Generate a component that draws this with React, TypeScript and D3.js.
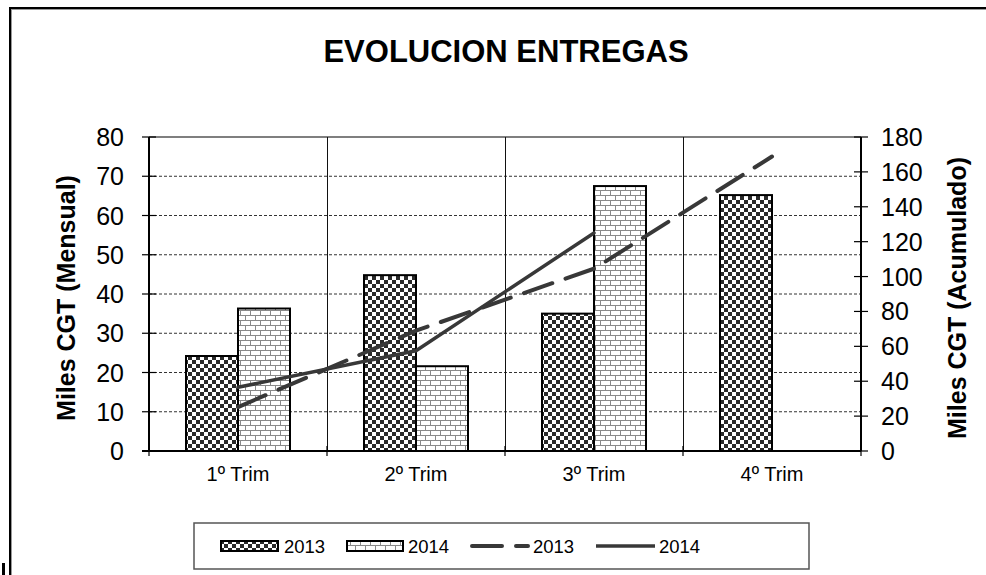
import React from 'react';
import * as d3 from 'd3';

const categories = ['1º Trim', '2º Trim', '3º Trim', '4º Trim'];
const seriesYears = ['2013', '2014'];
const monthly2013 = [24.2, 44.8, 35.0, 65.2];
const monthly2014: (number | null)[] = [36.3, 21.6, 67.5, null];
const cumulative2013 = [25.2, 69.0, 104.5, 168.8];
const cumulative2014 = [36.5, 57.5, 125.0];
const leftTicks = [0, 10, 20, 30, 40, 50, 60, 70, 80];
const rightTicks = [0, 20, 40, 60, 80, 100, 120, 140, 160, 180];
const titleText = 'EVOLUCION ENTREGAS';
const leftAxisTitle = 'Miles CGT (Mensual)';
const rightAxisTitle = 'Miles CGT (Acumulado)';

const W = 986;
const H = 575;
const P = { left: 149, right: 861, top: 137, bottom: 451 };
const FONT = '"Liberation Sans", Arial, sans-serif';
const LINE_COLOR = '#383838';

export default function App() {
  const x0 = d3.scaleBand<string>().domain(categories).range([P.left, P.right]).paddingInner(0).paddingOuter(0);
  const groupW = 104;
  const x1 = d3.scaleBand<string>().domain(seriesYears).range([0, groupW]);
  const offset = (x0.bandwidth() - groupW) / 2;
  const yL = d3.scaleLinear().domain([0, 80]).range([P.bottom, P.top]);
  const yR = d3.scaleLinear().domain([0, 180]).range([P.bottom, P.top]);
  const cx = (c: string) => (x0(c) as number) + x0.bandwidth() / 2;

  const lineGen = d3
    .line<[string, number]>()
    .x((d) => cx(d[0]))
    .y((d) => yR(d[1]));

  const pts2013: [string, number][] = cumulative2013.map((v, i) => [categories[i], v]);
  const pts2014: [string, number][] = cumulative2014.map((v, i) => [categories[i], v]);

  const bars: { key: string; year: string; cat: string; v: number }[] = [];
  categories.forEach((c, i) => {
    bars.push({ key: 'a' + i, year: '2013', cat: c, v: monthly2013[i] });
    const v2 = monthly2014[i];
    if (v2 != null) bars.push({ key: 'b' + i, year: '2014', cat: c, v: v2 });
  });

  const boundaries = [...categories.map((c) => x0(c) as number), P.right];
  const tickFs = 25;

  return (
    <svg width={W} height={H} style={{ position: 'absolute', left: 0, top: 0, display: 'block', background: '#fff' }} fontFamily={FONT}>
      <defs>
        <pattern id="checker" width={8} height={8} patternUnits="userSpaceOnUse">
          <rect width={8} height={8} fill="#fff" />
          <rect x={0} y={0} width={4} height={4} fill="#2a2a2a" />
          <rect x={4} y={4} width={4} height={4} fill="#2a2a2a" />
        </pattern>
        <pattern id="brick" width={10} height={10} patternUnits="userSpaceOnUse">
          <rect width={10} height={10} fill="#fff" />
          <line x1={0} y1={0.5} x2={10} y2={0.5} stroke="#8a8a8a" strokeWidth={1} />
          <line x1={0} y1={5.5} x2={10} y2={5.5} stroke="#8a8a8a" strokeWidth={1} />
          <line x1={0.5} y1={0} x2={0.5} y2={5} stroke="#8a8a8a" strokeWidth={1} />
          <line x1={5.5} y1={5} x2={5.5} y2={10} stroke="#8a8a8a" strokeWidth={1} />
        </pattern>
      </defs>

      {/* outer frame */}
      <rect x={10} y={8} width={1000} height={600} fill="none" stroke="#000" strokeWidth={2} />
      <rect x={11.5} y={9.5} width={1000} height={600} fill="none" stroke="#999" strokeWidth={1} />
      <rect x={2} y={563} width={3} height={12} fill="#000" />

      {/* title */}
      <text x={506} y={62} textAnchor="middle" fontSize={31} fontWeight="bold" fill="#000">
        {titleText}
      </text>

      {/* horizontal gridlines */}
      {leftTicks
        .filter((t) => t > 0 && t < 80)
        .map((t) => (
          <line key={'g' + t} x1={P.left} x2={P.right} y1={yL(t)} y2={yL(t)} stroke="#333" strokeWidth={1} strokeDasharray="3,2" />
        ))}
      {/* plot top border */}
      <line x1={P.left} x2={P.right} y1={P.top} y2={P.top} stroke="#555" strokeWidth={1.5} />
      {/* vertical category gridlines */}
      {boundaries.slice(1, -1).map((b, i) => (
        <line key={'v' + i} x1={Math.round(b) + 0.5} x2={Math.round(b) + 0.5} y1={P.top} y2={P.bottom} stroke="#111" strokeWidth={1} />
      ))}

      {/* bars */}
      {bars.map((b) => (
        <rect
          key={b.key}
          x={(x0(b.cat) as number) + offset + (x1(b.year) as number)}
          y={yL(b.v)}
          width={x1.bandwidth()}
          height={P.bottom - yL(b.v)}
          fill={b.year === '2013' ? 'url(#checker)' : 'url(#brick)'}
          stroke="#000"
          strokeWidth={2}
        />
      ))}

      {/* lines */}
      <path d={lineGen(pts2013) || ''} fill="none" stroke={LINE_COLOR} strokeWidth={4} strokeDasharray="30,14" strokeLinecap="round" />
      <path d={lineGen(pts2014) || ''} fill="none" stroke={LINE_COLOR} strokeWidth={3.5} strokeLinecap="round" strokeLinejoin="round" />

      {/* axes */}
      <line x1={P.left} x2={P.left} y1={P.top} y2={P.bottom} stroke="#000" strokeWidth={2} />
      <line x1={P.right} x2={P.right} y1={P.top} y2={P.bottom} stroke="#000" strokeWidth={2} />
      <line x1={P.left - 7} x2={P.right} y1={P.bottom} y2={P.bottom} stroke="#000" strokeWidth={2} />

      {leftTicks.map((t) => (
        <g key={'lt' + t}>
          <line x1={P.left - 7} x2={P.left + 7} y1={yL(t)} y2={yL(t)} stroke="#000" strokeWidth={1.2} />
          <text x={124} y={yL(t) + tickFs * 0.36} textAnchor="end" fontSize={tickFs} fill="#000">
            {t}
          </text>
        </g>
      ))}
      {rightTicks.map((t) => (
        <g key={'rt' + t}>
          <line x1={P.right - 7} x2={P.right + 7} y1={yR(t)} y2={yR(t)} stroke="#000" strokeWidth={1.2} />
          <text x={881} y={yR(t) + tickFs * 0.36} textAnchor="start" fontSize={tickFs} fill="#000">
            {t}
          </text>
        </g>
      ))}
      {boundaries.map((b, i) => (
        <line key={'xt' + i} x1={b} x2={b} y1={P.bottom - 5} y2={P.bottom + 5} stroke="#000" strokeWidth={1.2} />
      ))}
      {categories.map((c) => (
        <text key={'c' + c} x={cx(c)} y={481} textAnchor="middle" fontSize={20} fill="#000">
          {c}
        </text>
      ))}

      {/* axis titles */}
      <text transform={`translate(${75},${298}) rotate(-90)`} textAnchor="middle" fontSize={25} fontWeight="bold" fill="#000">
        {leftAxisTitle}
      </text>
      <text transform={`translate(${966},${298}) rotate(-90)`} textAnchor="middle" fontSize={25} fontWeight="bold" fill="#000">
        {rightAxisTitle}
      </text>

      {/* legend */}
      <rect x={194} y={523} width={615} height={46} fill="#fff" stroke="#555" strokeWidth={1.5} />
      <rect x={221} y={541} width={57} height={10} fill="url(#checker)" stroke="#000" strokeWidth={2} />
      <text x={284} y={553} fontSize={18.5} fill="#000">{seriesYears[0]}</text>
      <rect x={347} y={541} width={56} height={10} fill="url(#brick)" stroke="#000" strokeWidth={2} />
      <text x={408} y={553} fontSize={18.5} fill="#000">{seriesYears[1]}</text>
      <line x1={472} x2={528} y1={546} y2={546} stroke={LINE_COLOR} strokeWidth={4} strokeDasharray="30,14" strokeLinecap="round" />
      <text x={533} y={553} fontSize={18.5} fill="#000">{seriesYears[0]}</text>
      <line x1={596} x2={655} y1={546} y2={546} stroke={LINE_COLOR} strokeWidth={3.5} />
      <text x={659} y={553} fontSize={18.5} fill="#000">{seriesYears[1]}</text>
    </svg>
  );
}
